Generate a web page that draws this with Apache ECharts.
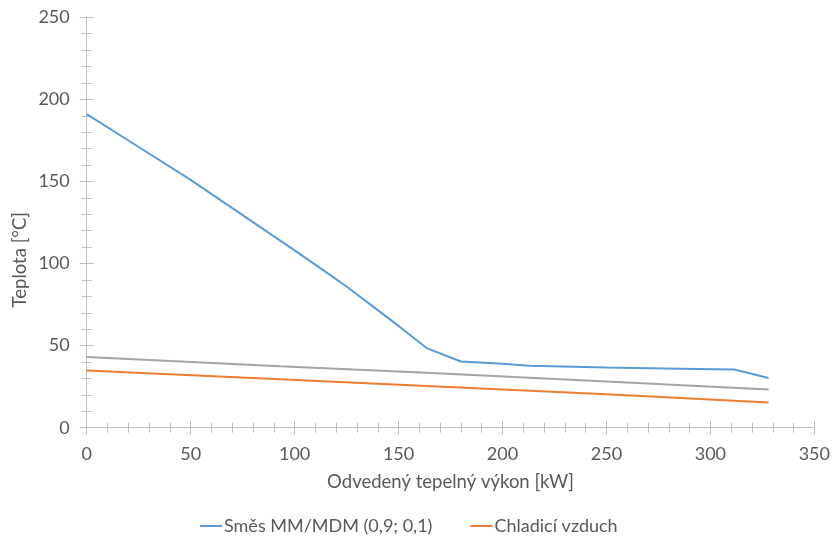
<!DOCTYPE html>
<html>
<head>
<meta charset="utf-8">
<script src="https://cdn.jsdelivr.net/npm/echarts@6/dist/echarts.min.js"></script>
<style>
html,body{margin:0;padding:0;background:#fff;}
#chart{width:833px;height:540px;}
</style>
</head>
<body>
<div id="chart"></div>
<script>
const seriesNames = ['Směs MM/MDM (0,9; 0,1)', 'Chladicí vzduch', 'Řada 3'];
const mixX = [0, 25, 50, 75, 100, 112, 125, 137, 150, 163.5, 180, 200, 213, 250, 285, 311.5, 328];
const mixY = [191, 171, 151, 129.5, 108, 97.5, 86, 74.5, 62, 48.5, 40.3, 39.0, 37.8, 36.6, 35.9, 35.4, 30.3];
const airX = [0, 93, 163.5, 250, 328];
const airY = [34.9, 29.5, 25.4, 20.4, 15.4];
const grayX = [0, 93, 163.5, 250, 328];
const grayY = [43.0, 37.4, 33.5, 28.2, 23.3];
const xTitle = 'Odvedený tepelný výkon [kW]';
const yTitle = 'Teplota [°C]';

const pair = (xs, ys) => xs.map((x, i) => [x, ys[i]]);
const FONT = 'Lato';
const TXT = '#595959';
const AX = '#BFBFBF';

const chart = echarts.init(document.getElementById('chart'));
const baseX = {
  type: 'value', min: 0, max: 350, interval: 50,
  splitLine: {show: false},
  minorTick: {show: true, splitNumber: 5, length: 5, lineStyle: {color: AX}},
  axisTick: {show: true, length: 7, lineStyle: {color: AX}},
  axisLine: {show: true, lineStyle: {color: AX, width: 1}}
};
const baseY = {
  type: 'value', min: 0, max: 250, interval: 50,
  splitLine: {show: false},
  minorTick: {show: true, splitNumber: 5, length: 5, lineStyle: {color: AX}},
  axisTick: {show: true, length: 7, lineStyle: {color: AX}},
  axisLine: {show: true, lineStyle: {color: AX, width: 1}}
};
chart.setOption({
  animation: false,
  textStyle: {fontFamily: FONT},
  grid: {left: 86.7, right: 18.5, top: 17.3, bottom: 112.3, containLabel: false},
  xAxis: [
    Object.assign({}, baseX, {
      position: 'bottom',
      axisLabel: {color: TXT, fontSize: 18, fontFamily: FONT, margin: 17},
      name: xTitle, nameLocation: 'middle', nameGap: 45,
      nameTextStyle: {color: TXT, fontSize: 18.5, fontFamily: FONT}
    }),
    Object.assign({}, baseX, {
      position: 'bottom', offset: 0,
      axisLine: {show: false},
      axisLabel: {show: false},
      axisTick: {show: true, inside: true, length: 7, lineStyle: {color: AX}},
      minorTick: {show: true, splitNumber: 5, length: 5, lineStyle: {color: AX}}
    })
  ],
  yAxis: [
    Object.assign({}, baseY, {
      position: 'left',
      axisLabel: {color: TXT, fontSize: 18, fontFamily: FONT, margin: 17}
    }),
    Object.assign({}, baseY, {
      position: 'left', offset: 0,
      axisLine: {show: false},
      axisLabel: {show: false},
      axisTick: {show: true, inside: true, length: 7, lineStyle: {color: AX}},
      minorTick: {show: true, splitNumber: 5, length: 5, lineStyle: {color: AX}}
    })
  ],
  graphic: [{
    type: 'text', left: 11, top: 212,
    rotation: Math.PI / 2,
    style: {text: yTitle, fill: TXT, font: '18.5px Lato'}
  }],
  legend: {
    data: [seriesNames[0], seriesNames[1]],
    left: 195, top: 512,
    itemWidth: 22, itemHeight: 2, itemGap: 38,
    icon: 'rect',
    textStyle: {color: TXT, fontSize: 18, fontFamily: FONT, padding: [0, 0, 0, -3]}
  },
  series: [
    {name: seriesNames[0], type: 'line', data: pair(mixX, mixY), symbol: 'none',
     lineStyle: {color: '#5B9BD5', width: 2}, itemStyle: {color: '#5B9BD5'}, z: 3},
    {name: seriesNames[1], type: 'line', data: pair(airX, airY), symbol: 'none',
     lineStyle: {color: '#ED7D31', width: 2}, itemStyle: {color: '#ED7D31'}, z: 3},
    {name: seriesNames[2], type: 'line', data: pair(grayX, grayY), symbol: 'none',
     lineStyle: {color: '#A5A5A5', width: 2}, itemStyle: {color: '#A5A5A5'}, z: 3}
  ]
});
</script>
</body>
</html>
